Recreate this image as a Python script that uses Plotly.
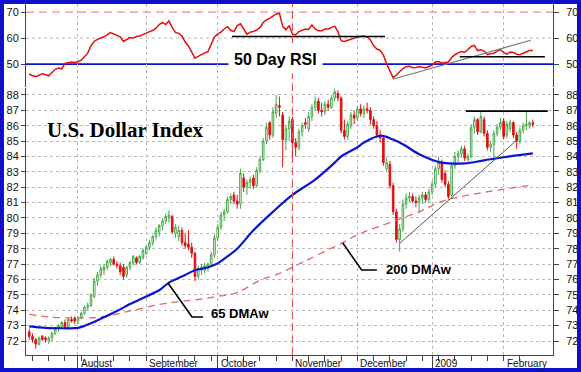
import pandas as pd
import plotly.graph_objects as go

# ---------------- data ----------------
dates = pd.bdate_range("2008-07-11", "2009-02-13")  # weekday trading sessions

opens = [72.6, 72.3, 72.1, 71.8, 72.3, 72.2, 72.0, 72.2, 72.5, 72.8,
         72.9, 73.2, 72.9, 73.4, 73.5, 73.3, 73.5, 73.8, 74.2, 74.3,
         74.9, 75.9, 76.3, 76.6, 76.8, 77.1, 77.3, 77.0, 76.9, 76.8,
         76.3, 76.8, 77.1, 77.4, 77.1, 77.4, 77.7, 78.1, 78.4, 78.8,
         79.1, 79.5, 79.8, 80.0, 80.1, 79.0, 78.8, 79.2, 78.4, 78.3,
         78.1, 77.7, 76.2, 76.6, 76.6, 76.7, 77.0, 77.6, 78.7, 79.4,
         80.2, 80.4, 81.2, 81.5, 81.1, 80.9, 82.6, 82.0, 82.3, 82.6,
         82.1, 83.1, 83.8, 85.0, 86.2, 85.4, 86.8, 87.3, 86.7, 85.1,
         85.8, 86.4, 84.9, 84.6, 85.6, 86.2, 85.8, 86.6, 87.2, 87.6,
         87.0, 86.9, 87.4, 87.2, 87.8, 88.1, 87.8, 85.7, 85.3, 86.0,
         86.7, 86.5, 87.1, 86.8, 87.1, 87.0, 86.4, 86.0, 85.4, 85.2,
         83.2, 83.5, 82.1, 80.4, 78.6, 79.3, 80.9, 81.3, 81.4, 81.1,
         81.0, 81.3, 81.5, 81.2, 81.7, 82.2, 83.2, 83.6, 82.9, 82.2,
         81.5, 83.4, 84.0, 84.2, 84.5, 83.8, 84.0, 85.9, 86.4, 85.6,
         86.4, 85.5, 84.6, 84.8, 85.5, 85.9, 86.3, 85.4, 85.8, 86.2,
         85.4, 85.0, 85.7, 86.0, 86.0, 86.2]
highs = [72.8, 72.5, 72.2, 72.3, 72.4, 72.3, 72.3, 72.6, 72.9, 73.1,
         73.3, 73.4, 73.5, 73.6, 73.6, 73.6, 73.9, 74.3, 74.5, 75.1,
         76.1, 76.5, 76.9, 77.0, 77.3, 77.4, 77.5, 77.2, 77.1, 77.0,
         76.9, 77.2, 77.6, 77.5, 77.6, 78.0, 78.2, 78.6, 78.9, 79.4,
         79.6, 80.0, 80.3, 80.5, 80.2, 79.6, 79.5, 79.4, 79.0, 79.2,
         78.4, 77.8, 76.9, 77.0, 77.1, 77.1, 77.8, 78.9, 79.6, 80.4,
         80.6, 81.4, 81.6, 81.7, 81.5, 83.2, 82.9, 82.5, 82.7, 82.8,
         83.3, 84.0, 85.2, 86.2, 86.3, 87.2, 88.0, 87.9, 86.9, 86.0,
         86.6, 86.6, 85.2, 85.8, 86.2, 86.5, 86.9, 87.4, 87.9, 87.8,
         87.5, 87.6, 87.7, 88.0, 88.4, 88.3, 87.9, 86.4, 86.3, 86.9,
         87.0, 87.3, 87.4, 87.3, 87.5, 87.2, 86.6, 86.3, 85.7, 85.4,
         83.9, 83.7, 82.3, 80.6, 79.6, 81.2, 81.6, 81.7, 81.6, 81.4,
         81.5, 81.7, 81.7, 81.9, 82.4, 83.4, 84.0, 83.8, 83.1, 82.4,
         83.6, 84.3, 84.4, 84.7, 84.7, 84.2, 86.1, 86.6, 86.5, 86.9,
         86.6, 85.7, 85.0, 85.7, 86.1, 86.5, 86.5, 86.3, 86.4, 86.3,
         85.6, 85.9, 86.2, 86.9, 86.3, 86.4]
lows = [72.1, 71.9, 71.5, 71.7, 72.0, 71.9, 71.8, 72.0, 72.4, 72.6,
        72.8, 72.8, 72.8, 73.2, 73.1, 73.1, 73.4, 73.7, 74.0, 74.2,
        74.8, 75.6, 76.1, 76.3, 76.6, 76.9, 76.9, 76.7, 76.3, 76.0,
        76.1, 76.6, 76.9, 77.0, 77.0, 77.3, 77.6, 77.9, 78.2, 78.6,
        78.8, 79.2, 79.6, 79.7, 79.0, 78.7, 78.5, 78.2, 78.0, 77.9,
        77.4, 75.9, 76.0, 76.3, 76.4, 76.5, 76.8, 77.4, 78.5, 79.2,
        79.8, 80.3, 80.9, 80.9, 80.6, 80.6, 81.7, 81.5, 81.9, 81.9,
        82.0, 82.9, 83.7, 84.8, 85.1, 85.2, 86.5, 86.6, 83.3, 84.4,
        85.0, 84.0, 84.0, 84.4, 85.3, 85.8, 85.6, 86.3, 87.0, 86.8,
        86.6, 86.7, 87.0, 87.1, 87.6, 87.6, 85.5, 85.1, 85.1, 85.8,
        86.1, 86.3, 86.6, 86.5, 86.8, 86.1, 85.8, 85.2, 84.9, 83.4,
        83.0, 81.9, 80.2, 78.4, 77.8, 79.1, 80.6, 81.0, 81.0, 80.7,
        80.3, 80.9, 81.0, 81.0, 81.5, 82.0, 82.8, 82.3, 82.0, 81.2,
        81.4, 83.2, 83.6, 83.9, 83.7, 83.6, 83.9, 85.5, 85.4, 85.5,
        85.3, 84.4, 84.3, 83.8, 85.3, 85.7, 85.1, 85.2, 85.6, 85.2,
        84.5, 84.8, 85.5, 85.7, 85.8, 85.9]
closes = [72.3, 72.1, 71.8, 72.2, 72.1, 72.1, 72.2, 72.5, 72.8, 73.0,
          73.2, 72.9, 73.4, 73.3, 73.3, 73.5, 73.8, 74.2, 74.3, 75.0,
          75.9, 76.3, 76.7, 76.8, 77.2, 77.3, 77.0, 76.9, 76.5, 76.2,
          76.8, 77.1, 77.5, 77.1, 77.5, 77.9, 78.1, 78.4, 78.8, 79.2,
          79.5, 79.8, 80.1, 80.2, 79.1, 79.4, 79.2, 78.4, 78.2, 78.1,
          77.7, 76.2, 76.7, 76.8, 76.9, 77.0, 77.6, 78.7, 79.4, 80.2,
          80.4, 81.2, 81.4, 81.1, 80.9, 82.9, 82.0, 82.3, 82.5, 82.1,
          83.1, 83.8, 85.0, 85.9, 85.4, 86.9, 87.4, 87.2, 85.1, 85.8,
          86.3, 84.9, 84.6, 85.6, 86.0, 86.1, 86.6, 87.2, 87.6, 87.0,
          86.9, 87.4, 87.2, 87.8, 88.2, 87.8, 85.7, 85.3, 86.1, 86.7,
          86.5, 87.1, 86.8, 87.1, 87.0, 86.4, 86.0, 85.4, 85.2, 83.6,
          83.6, 82.1, 80.4, 78.6, 79.3, 80.9, 81.3, 81.4, 81.1, 81.0,
          81.3, 81.5, 81.2, 81.7, 82.2, 83.2, 83.6, 82.5, 82.2, 81.4,
          83.4, 84.0, 84.2, 84.5, 83.9, 84.0, 85.9, 86.4, 85.6, 86.6,
          85.5, 84.6, 84.8, 85.5, 85.9, 86.2, 85.3, 86.1, 86.2, 85.4,
          85.0, 85.7, 86.0, 86.1, 86.2, 86.1]

rsi50 = [46.2, 45.5, 45.2, 45.6, 46.3, 45.9, 45.5, 46.8, 48.0, 48.5,
         48.2, 50.3, 50.5, 50.8, 50.6, 50.9, 51.5, 52.9, 54.2, 57.0,
         58.8, 59.5, 59.9, 60.5, 61.2, 62.1, 61.6, 61.0, 60.5, 58.7,
         59.6, 60.2, 60.0, 60.6, 60.8, 61.5, 61.9, 62.5, 62.9, 63.8,
         65.2, 66.0, 65.2, 66.6, 64.0, 62.2, 61.8, 60.8, 58.5, 57.0,
         54.5, 52.3, 53.0, 53.8, 54.3, 54.8, 57.5, 60.4, 61.5, 62.3,
         63.5, 64.4, 63.0, 62.5, 64.8, 65.5, 63.5, 61.5, 62.3, 62.5,
         63.2, 64.0, 66.0, 67.0, 67.6, 68.3, 69.3, 69.5, 64.5, 63.2,
         64.8, 61.5, 61.3, 62.5, 63.1, 63.5, 63.3, 65.0, 63.5, 62.8,
         62.8, 63.5, 63.5, 64.2, 64.6, 62.5, 59.0, 58.7, 59.2, 59.5,
         60.0, 60.4, 60.6, 60.8, 60.4, 59.3, 57.0, 55.8, 55.3, 53.5,
         50.0, 47.5, 44.7, 45.8, 47.2, 48.3, 49.0, 49.2, 48.6, 48.7,
         49.1, 48.8, 48.5, 49.1, 49.6, 50.8, 51.0, 50.4, 50.6, 50.8,
         52.5, 53.6, 54.3, 54.8, 54.6, 55.5, 56.8, 57.2, 55.2, 55.5,
         55.0, 53.6, 54.0, 54.2, 55.0, 55.6, 54.5, 53.8, 54.6, 54.5,
         53.8, 53.6, 54.2, 54.8, 55.2, 55.2]

# 65-day and 200-day weighted moving averages, read at session numbers
ma65_day = [0, 5, 10, 15, 19, 23, 27, 31, 36, 40, 43, 48, 51, 55, 58, 61, 64,
            69, 75, 81, 88, 94, 96, 101, 103, 108, 112, 115, 120, 127, 134,
            140, 146, 155]
ma65_val = [72.95, 72.85, 72.83, 72.85, 73.15, 73.55, 73.95, 74.4, 74.9, 75.3,
            75.8, 76.3, 76.6, 76.8, 77.05, 77.5, 78.0, 79.2, 80.4, 81.5, 82.5,
            83.6, 84.0, 84.6, 84.9, 85.35, 85.1, 84.8, 84.15, 83.6, 83.55,
            83.75, 83.95, 84.2]
ma200_day = [0, 6, 15, 22, 32, 42, 52, 58, 64, 71, 77, 81, 96, 102, 111, 121,
             128, 155]
ma200_val = [73.75, 73.56, 73.5, 73.56, 74.0, 74.45, 74.7, 74.9, 75.15, 75.95,
             76.4, 76.8, 78.35, 79.0, 79.7, 80.5, 81.15, 82.15]

# hand-drawn trend lines (session number, value)
price_resist_day, price_resist_val = [134.4, 159.6], [86.95, 86.95]
price_trend_day, price_trend_val = [114.1, 150.1], [78.37, 85.07]
rsi_resist_day, rsi_resist_val = [62.4, 109.5], [60.6, 60.6]
rsi_trend_day, rsi_trend_val = [111.9, 154.4], [44.2, 59.2]
rsi_flat_day, rsi_flat_val = [132.5, 158.7], [52.8, 52.8]

month_labels = ["August", "September", "October", "November", "December",
                "2009", "February"]
marker_date = pd.Timestamp("2008-11-03")

price_ticks = list(range(72, 89))
rsi_ticks = [50, 60, 70]

# ---------------- derived positions ----------------
idx = list(range(len(dates)))
month_idx = [i for i in range(1, len(dates)) if dates[i].month != dates[i - 1].month]
monday_idx = [i for i in idx if dates[i].weekday() == 0]
marker_idx = int(list(dates).index(marker_date))

FONT = "Liberation Sans"
AX = "#444444"
GRID = "#b8b8b8"

fig = go.Figure()

fig.add_trace(go.Candlestick(
    x=idx, open=opens, high=highs, low=lows, close=closes,
    xaxis="x", yaxis="y", whiskerwidth=0,
    increasing=dict(line=dict(color="#45a845", width=1), fillcolor="#ffffff"),
    decreasing=dict(line=dict(color="#e01010", width=1), fillcolor="#e01010"),
    hoverinfo="skip", showlegend=False))

fig.add_trace(go.Scatter(x=ma200_day, y=ma200_val, mode="lines", xaxis="x", yaxis="y",
                         line=dict(color="#e06868", width=1.3, dash="7px,5px", shape="spline"),
                         hoverinfo="skip", showlegend=False))
fig.add_trace(go.Scatter(x=ma65_day, y=ma65_val, mode="lines", xaxis="x", yaxis="y",
                         line=dict(color="#0a14d2", width=2.2, shape="spline"),
                         hoverinfo="skip", showlegend=False))
fig.add_trace(go.Scatter(x=price_resist_day, y=price_resist_val, mode="lines", xaxis="x", yaxis="y",
                         line=dict(color="#000000", width=1.6), hoverinfo="skip", showlegend=False))
fig.add_trace(go.Scatter(x=price_trend_day, y=price_trend_val, mode="lines", xaxis="x", yaxis="y",
                         line=dict(color="#555555", width=1), hoverinfo="skip", showlegend=False))

fig.add_trace(go.Scatter(x=idx, y=rsi50, mode="lines", xaxis="x2", yaxis="y2",
                         line=dict(color="#e01010", width=1.5), hoverinfo="skip", showlegend=False))
fig.add_trace(go.Scatter(x=rsi_resist_day, y=rsi_resist_val, mode="lines", xaxis="x2", yaxis="y2",
                         line=dict(color="#000000", width=1.5), hoverinfo="skip", showlegend=False))
fig.add_trace(go.Scatter(x=rsi_trend_day, y=rsi_trend_val, mode="lines", xaxis="x2", yaxis="y2",
                         line=dict(color="#777777", width=1.1), hoverinfo="skip", showlegend=False))
fig.add_trace(go.Scatter(x=rsi_flat_day, y=rsi_flat_val, mode="lines", xaxis="x2", yaxis="y2",
                         line=dict(color="#000000", width=1.5), hoverinfo="skip", showlegend=False))

# invisible anchors for the right-hand axes
fig.add_trace(go.Scatter(x=[idx[0]], y=[price_ticks[0]], mode="markers", xaxis="x", yaxis="y3",
                         marker=dict(opacity=0), hoverinfo="skip", showlegend=False))
fig.add_trace(go.Scatter(x=[idx[0]], y=[rsi_ticks[0]], mode="markers", xaxis="x2", yaxis="y4",
                         marker=dict(opacity=0), hoverinfo="skip", showlegend=False))

XR = [-1, 161.2]
PR = [71.09, 88.455]
RR = [41.2, 73.1]
tickfont = dict(family=FONT, size=11, color="#111111")

fig.update_layout(
    width=581, height=372,
    margin=dict(l=26, r=28, t=4, b=17),
    paper_bgcolor="#ffffff", plot_bgcolor="#ffffff",
    showlegend=False,
    xaxis=dict(domain=[0, 1], anchor="y", range=XR, tickmode="array", tickvals=month_idx,
               ticktext=[""] * len(month_idx), ticks="outside", ticklen=13, tickcolor=AX,
               showgrid=True, gridcolor=GRID, griddash="dot", gridwidth=1,
               showline=True, linecolor=AX, linewidth=1, zeroline=False,
               minor=dict(tickvals=monday_idx, ticks="outside", ticklen=5, tickcolor=AX, showgrid=False),
               rangeslider=dict(visible=False), fixedrange=True),
    xaxis2=dict(domain=[0, 1], anchor="y2", range=XR, tickmode="array", tickvals=month_idx,
                showticklabels=False, ticks="", showgrid=True, gridcolor=GRID, griddash="dot",
                showline=False, zeroline=False, fixedrange=True),
    yaxis=dict(domain=[0, 0.7607], anchor="x", range=PR, tickmode="array", tickvals=price_ticks,
               ticks="outside", ticklen=4, tickcolor=AX, tickfont=tickfont,
               showgrid=True, gridcolor=GRID, griddash="dot", showline=True, linecolor=AX,
               zeroline=False, fixedrange=True),
    yaxis3=dict(overlaying="y", side="right", anchor="x", range=PR, tickmode="array",
                tickvals=price_ticks, ticks="outside", ticklen=5, tickcolor=AX, tickfont=tickfont,
                showgrid=False, showline=True, linecolor=AX, zeroline=False, fixedrange=True,
                ticklabelstandoff=5),
    yaxis2=dict(domain=[0.7635, 1], anchor="x2", range=RR, tickmode="array", tickvals=rsi_ticks,
                ticks="outside", ticklen=4, tickcolor=AX, tickfont=tickfont,
                showgrid=False, showline=True, linecolor=AX,
                zeroline=False, fixedrange=True),
    yaxis4=dict(overlaying="y2", side="right", anchor="x2", range=RR, tickmode="array",
                tickvals=rsi_ticks, ticks="outside", ticklen=5, tickcolor=AX, tickfont=tickfont,
                showgrid=False, showline=True, linecolor=AX, zeroline=False, fixedrange=True,
                ticklabelstandoff=5),
)

shapes = [
    dict(type="line", xref="x2 domain", yref="y2", x0=0, x1=1, y0=60, y1=60,
         line=dict(color=GRID, width=1, dash="dot"), layer="below"),
    dict(type="line", xref="x2 domain", yref="y2", x0=0, x1=1, y0=50, y1=50,
         line=dict(color="#0a14d2", width=1.6), layer="below"),
    dict(type="line", xref="x2 domain", yref="y2", x0=0, x1=1, y0=70, y1=70,
         line=dict(color="#e89090", width=1.3, dash="8px,5px"), layer="below"),
    dict(type="line", xref="x", yref="paper", x0=marker_idx, x1=marker_idx, y0=0, y1=1,
         line=dict(color="#e05050", width=1.1, dash="7px,5px"), layer="above"),
    dict(type="path", xref="x", yref="y", path="M 42.7,75.77 L 50.1,73.56 L 53.5,73.56",
         line=dict(color="#000000", width=1.6)),
    dict(type="path", xref="x", yref="y", path="M 96.5,78.37 L 102.3,76.62 L 107.0,76.62",
         line=dict(color="#000000", width=1.6)),
    dict(type="rect", xref="paper", yref="paper",
         x0=-24 / 527, x1=553 / 527, y0=-15 / 351, y1=1 + 2 / 351,
         line=dict(color="#1010cc", width=4), fillcolor="rgba(0,0,0,0)", layer="above"),
]
fig.update_layout(shapes=shapes)

annotations = [
    dict(text="<b>U.S. Dollar Index</b>", xref="x", yref="y", x=4.85, y=85.72,
         xanchor="left", yanchor="middle", showarrow=False,
         font=dict(family="Liberation Serif", size=21, color="#000000")),
    dict(text="<b>50 Day RSI</b>", xref="x2", yref="y2", x=75.9, y=51.9,
         xanchor="center", yanchor="middle", showarrow=False, bgcolor="#ffffff", borderpad=5,
         font=dict(family=FONT, size=16, color="#000000")),
    dict(text="<b>65 DMAw</b>", xref="x", yref="y", x=55.3, y=73.82,
         xanchor="left", yanchor="middle", showarrow=False,
         font=dict(family=FONT, size=13, color="#000000")),
    dict(text="<b>200 DMAw</b>", xref="x", yref="y", x=109.2, y=76.62,
         xanchor="left", yanchor="middle", showarrow=False,
         font=dict(family=FONT, size=13, color="#000000")),
]
for m, lab in zip(month_idx, month_labels):
    annotations.append(dict(text=lab, xref="x", yref="paper", x=m, y=-9 / 351,
                            xanchor="left", yanchor="middle", xshift=1, showarrow=False,
                            font=dict(family=FONT, size=10, color="#111111")))
fig.update_layout(annotations=annotations)

fig.write_html("out.html", config={"displayModeBar": False},
               post_script="document.body.style.margin='0px';document.body.style.overflow='hidden';")
